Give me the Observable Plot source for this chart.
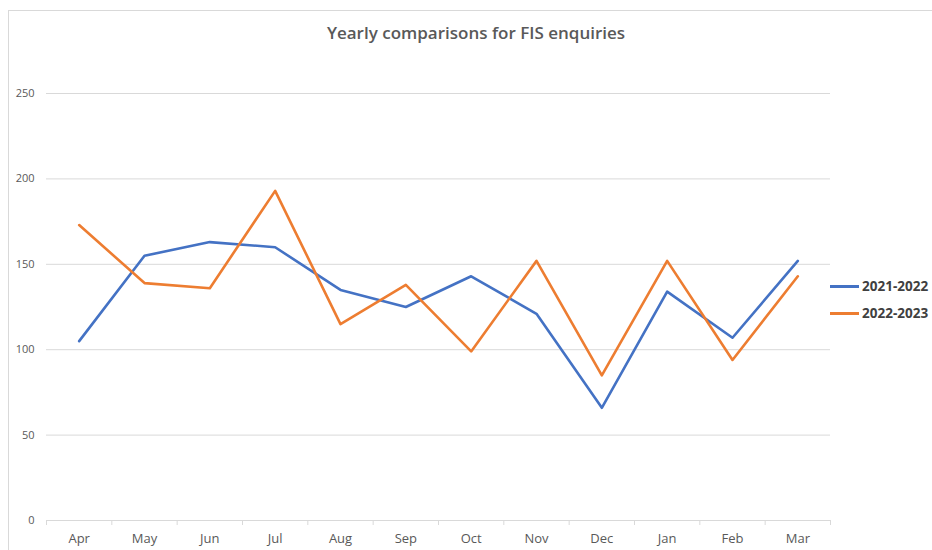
<!DOCTYPE html>
<html>
<head>
<meta charset="utf-8">
<script src="https://cdn.jsdelivr.net/npm/d3@7"></script>
<script src="https://cdn.jsdelivr.net/npm/@observablehq/plot@0.6"></script>
<style>
  body { margin: 0; background: #fff; font-family: "Open Sans", sans-serif; }
  #wrap { position: relative; width: 932px; height: 550px; overflow: hidden; }
  #frame { position: absolute; left: 8px; top: 10px; width: 1000px; height: 1000px; border: 1px solid #d9d9d9; box-sizing: border-box; }
  #title { position: absolute; left: 0; width: 952px; top: 21px; text-align: center; font-size: 17px; font-weight: 600; color: #595959; }
  .leg { position: absolute; left: 830px; display: flex; align-items: center; font-size: 13.5px; font-weight: 700; color: #404040; }
  .leg span.sw { display: inline-block; width: 29px; height: 3px; margin-right: 3px; }
  #chart { position: absolute; left: 0; top: 0; }
</style>
</head>
<body>
<div id="wrap">
  <div id="frame"></div>
  <div id="chart"></div>
  <div id="title">Yearly comparisons for FIS enquiries</div>
  <div id="legend"></div>
</div>
<script>
const months = ["Apr","May","Jun","Jul","Aug","Sep","Oct","Nov","Dec","Jan","Feb","Mar"];
const seriesNames = ["2021-2022", "2022-2023"];
const values2122 = [105, 155, 163, 160, 135, 125, 143, 121, 66, 134, 107, 152];
const values2223 = [173, 139, 136, 193, 115, 138, 99, 152, 85, 152, 94, 143];
const yTicks = [0, 50, 100, 150, 200, 250];
const colors = ["#4472C4", "#ED7D31"];

const data = [];
months.forEach((m, i) => {
  data.push({i, month: m, series: seriesNames[0], value: values2122[i]});
  data.push({i, month: m, series: seriesNames[1], value: values2223[i]});
});
const idx = months.map((_, i) => i);
const bounds = d3.range(months.length + 1).map(k => k - 0.5);

const plot = Plot.plot({
  width: 932,
  height: 550,
  marginLeft: 46,
  marginRight: 102,
  marginTop: 93,
  marginBottom: 30,
  style: {fontFamily: "Open Sans, sans-serif", background: "transparent"},
  x: {type: "linear", domain: [-0.5, months.length - 0.5]},
  y: {domain: [0, 250]},
  color: {domain: seriesNames, range: colors},
  marks: [
    Plot.gridY(yTicks, {stroke: "#d9d9d9", strokeOpacity: 1, strokeWidth: 1}),
    Plot.axisY(yTicks, {tickSize: 0, tickPadding: 12, fontSize: 11, fill: "#595959", label: null}),
    Plot.axisX(bounds, {tickSize: 5, stroke: "#d9d9d9", tickFormat: () => "", label: null}),
    Plot.axisX(idx, {tickSize: 0, tickPadding: 13, tickFormat: i => months[i], fontSize: 13, fill: "#595959", label: null}),
    Plot.ruleY([0], {stroke: "#d9d9d9"}),
    Plot.line(data, {x: "i", y: "value", z: "series", stroke: "series", strokeWidth: 2.6, strokeLinejoin: "round", strokeLinecap: "round"})
  ]
});
document.getElementById("chart").appendChild(plot);

const leg = document.getElementById("legend");
seriesNames.forEach((s, k) => {
  const d = document.createElement("div");
  d.className = "leg";
  d.style.top = (277 + k * 27) + "px";
  d.innerHTML = `<span class="sw" style="background:${colors[k]}"></span>${s}`;
  leg.appendChild(d);
});
</script>
</body>
</html>
